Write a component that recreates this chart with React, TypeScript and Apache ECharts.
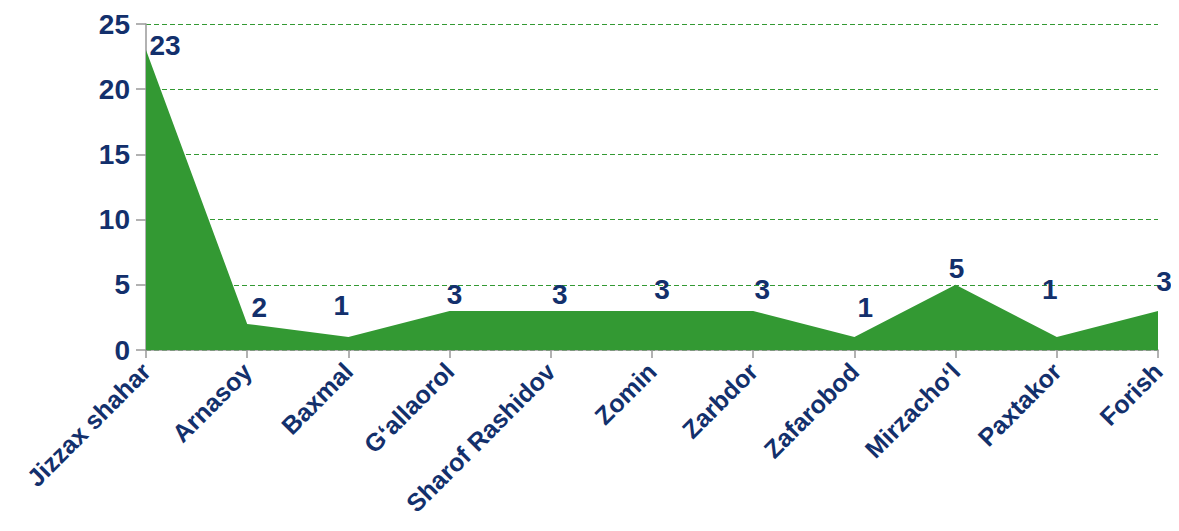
import React, { useEffect, useRef } from "react";
import * as echarts from "echarts";

const categories = [
  "Jizzax shahar",
  "Arnasoy",
  "Baxmal",
  "G‘allaorol",
  "Sharof Rashidov",
  "Zomin",
  "Zarbdor",
  "Zafarobod",
  "Mirzacho‘l",
  "Paxtakor",
  "Forish",
];
const values = [23, 2, 1, 3, 3, 3, 3, 1, 5, 1, 3];
const labelOffsets: [number, number][] = [
  [19, 15],
  [12, 3],
  [-7, -12],
  [5, 3],
  [9, 3],
  [10, -2],
  [9, -2],
  [11, -10],
  [1, 3],
  [-7, -28],
  [6, -10],
];

const GREEN = "#339933";
const NAVY = "#13306c";
const FONT = "'Liberation Sans', Arial, sans-serif";

export default function App() {
  const ref = useRef<HTMLDivElement>(null);
  useEffect(() => {
    if (!ref.current) return;
    const chart = echarts.init(ref.current, null, { renderer: "svg" });
    chart.setOption({
      animation: false,
      backgroundColor: "#ffffff",
      grid: {
        left: 138,
        right: 13,
        top: 16,
        bottom: 173,
        containLabel: false,
        outerBoundsMode: "none",
      },
      xAxis: {
        type: "category",
        data: categories,
        boundaryGap: false,
        axisLine: { lineStyle: { color: "#999999", width: 1.5 } },
        axisTick: { show: true, alignWithLabel: true, length: 8, lineStyle: { color: "#999999", width: 1.5 } },
        axisLabel: {
          interval: 0,
          rotate: 45,
          margin: 17,
          color: NAVY,
          fontFamily: FONT,
          fontWeight: "bold",
          fontSize: 25,
        },
        splitLine: { show: false },
      },
      yAxis: {
        type: "value",
        min: 0,
        max: 25,
        interval: 5,
        axisLine: { show: true, lineStyle: { color: "#999999", width: 1.5 } },
        axisTick: { show: true, length: 10, lineStyle: { color: "#999999", width: 1.5 } },
        axisLabel: {
          margin: 16,
          color: NAVY,
          fontFamily: FONT,
          fontWeight: "bold",
          fontSize: 28,
        },
        splitLine: { show: true, lineStyle: { color: GREEN, type: [5, 3], width: 1.2 } },
      },
      series: [
        {
          type: "line",
          data: values.map((v, i) => ({
            value: v,
            label: { offset: labelOffsets[i] },
          })),
          symbol: "circle",
          symbolSize: 1,
          showSymbol: true,
          showAllSymbol: true,
          itemStyle: { color: "rgba(0,0,0,0)" },
          lineStyle: { width: 0 },
          areaStyle: { color: GREEN, opacity: 1 },
          z: 1,
          label: {
            show: true,
            position: "top",
            color: NAVY,
            fontFamily: FONT,
            fontWeight: "bold",
            fontSize: 28,
          },
        },
      ],
    });
    return () => chart.dispose();
  }, []);
  return <div ref={ref} style={{ width: 1163, height: 515 }} />;
}
